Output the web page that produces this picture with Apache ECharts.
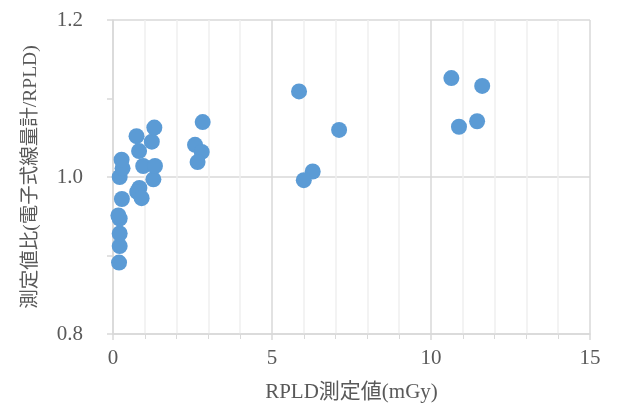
<!DOCTYPE html>
<html>
<head>
<meta charset="utf-8">
<script src="https://cdn.jsdelivr.net/npm/echarts@6/dist/echarts.min.js"></script>
<style>
    html, body { margin: 0; padding: 0; background: #fff; }
    #chart { width: 617px; height: 408px; }
</style>
</head>
<body>
<div id="chart"></div>
<script>
// RPLD measured dose (mGy)
const rpldDose = [
    0.19, 0.21, 0.21, 0.21, 0.17, 0.28, 0.21, 0.30, 0.27,
    0.83, 0.76, 0.90, 0.95, 1.27, 1.32, 0.82, 0.74, 1.22, 1.30,
    2.58, 2.82, 2.79, 2.66,
    5.85, 7.11, 6.28, 6.00,
    10.64, 11.61, 10.88, 11.45,
];
// ratio (electronic dosimeter / RPLD)
const doseRatio = [
    0.891, 0.912, 0.928, 0.947, 0.951, 0.972, 1.000, 1.011, 1.022,
    0.986, 0.981, 0.973, 1.014, 0.997, 1.014, 1.033, 1.052, 1.045, 1.063,
    1.041, 1.070, 1.032, 1.019,
    1.109, 1.060, 1.007, 0.996,
    1.126, 1.116, 1.064, 1.071,
];

const xName = 'RPLD測定値(mGy)';
const yName = '測定値比(電子式線量計/RPLD)';

const fontFamily = '"Liberation Serif", "DejaVu Serif", "Noto Sans CJK JP", serif';
const textColor = '#595959';

const chart = echarts.init(document.getElementById('chart'));
chart.setOption({
    animation: false,
    grid: { left: 113, right: 27, top: 20, bottom: 72 },
    xAxis: {
        type: 'value',
        min: 0,
        max: 15,
        interval: 5,
        name: xName,
        nameLocation: 'middle',
        nameGap: 48,
        nameTextStyle: { color: textColor, fontSize: 21, fontFamily },
        axisLine: { show: true, lineStyle: { color: '#d9d9d9', width: 1.5 } },
        axisTick: { show: true, length: 6, lineStyle: { color: '#d9d9d9', width: 1.5 } },
        minorTick: { show: true, splitNumber: 5, length: 5, lineStyle: { color: '#d9d9d9', width: 1 } },
        axisLabel: { color: textColor, fontSize: 21, fontFamily, margin: 14 },
        splitLine: { show: true, lineStyle: { color: '#d9d9d9', width: 1.5 } },
        minorSplitLine: { show: true, lineStyle: { color: '#f0f0f0', width: 1.5 } },
    },
    yAxis: {
        type: 'value',
        min: 0.8,
        max: 1.2,
        interval: 0.2,
        name: yName,
        nameLocation: 'middle',
        nameGap: 72,
        nameTextStyle: { color: textColor, fontSize: 19.5, fontFamily },
        axisLine: { show: true, lineStyle: { color: '#d9d9d9', width: 1.5 } },
        axisTick: { show: true, length: 6, lineStyle: { color: '#d9d9d9', width: 1.5 } },
        minorTick: { show: true, splitNumber: 2, length: 6, lineStyle: { color: '#d9d9d9', width: 1.5 } },
        axisLabel: {
            color: textColor, fontSize: 21, fontFamily, margin: 30,
            formatter: (v) => v.toFixed(1),
        },
        splitLine: { show: true, lineStyle: { color: '#d9d9d9', width: 1.5 } },
    },
    series: [
        {
            type: 'scatter',
            symbol: 'circle',
            symbolSize: 16,
            itemStyle: { color: '#5b9bd5', opacity: 1 },
            data: rpldDose.map((x, i) => [x, doseRatio[i]]),
        },
    ],
});
</script>
</body>
</html>
